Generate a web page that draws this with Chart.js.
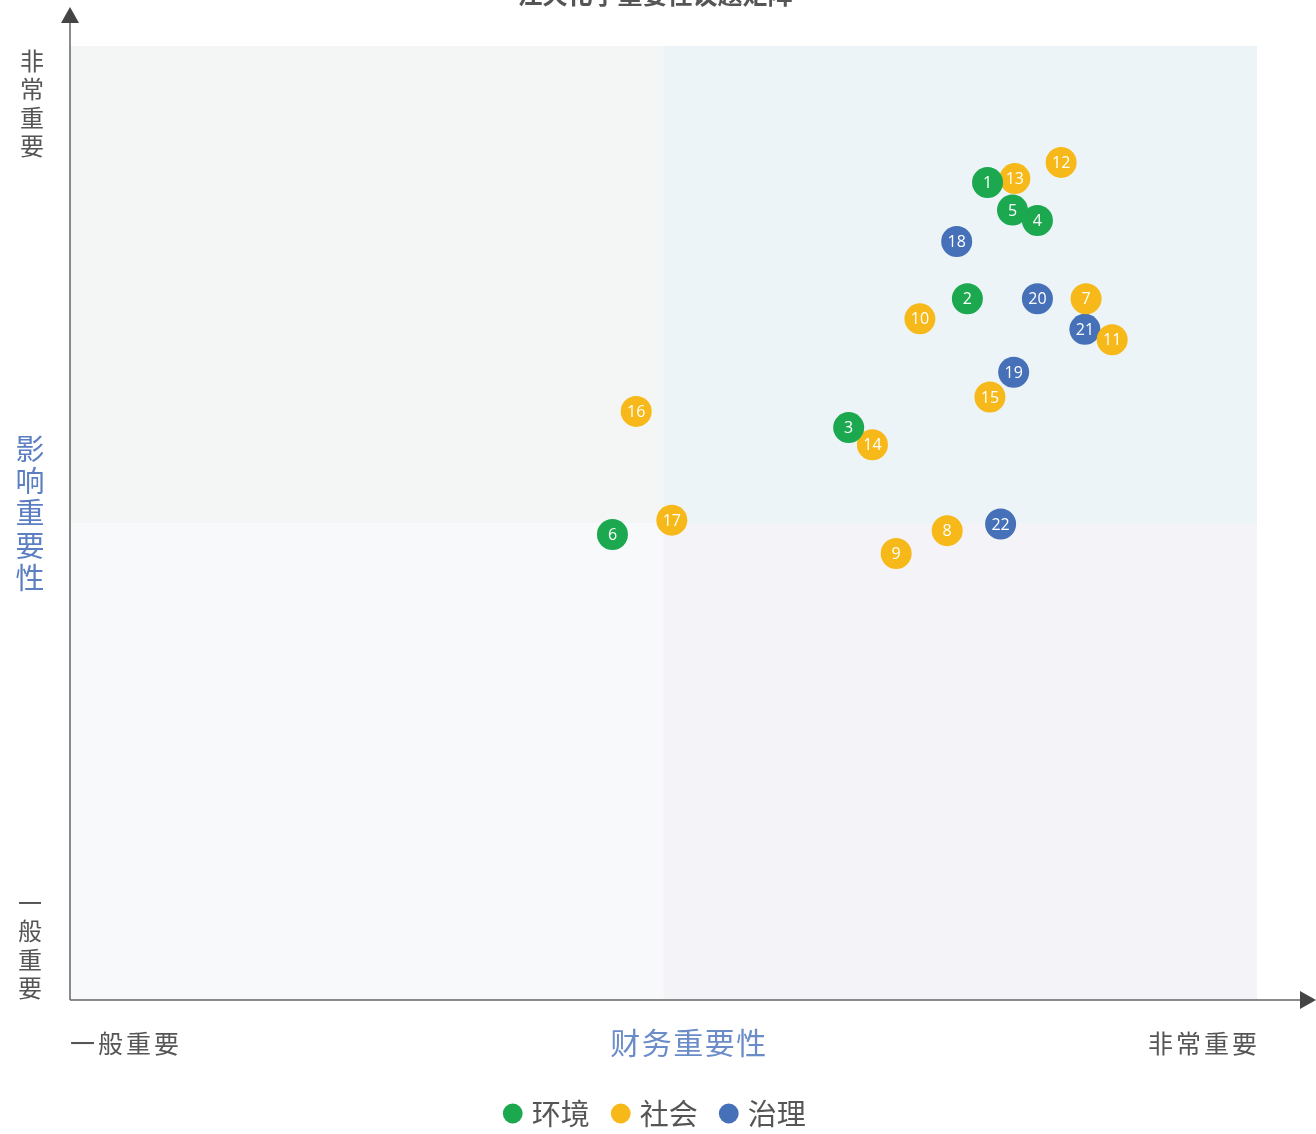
<!DOCTYPE html>
<html>
<head>
<meta charset="utf-8">
<script src="https://cdn.jsdelivr.net/npm/chart.js@4"></script>
<style>
html,body{margin:0;padding:0;background:#fff;overflow:hidden;}
#wrap{width:1316px;height:1134px;position:relative;overflow:hidden;}
</style>
</head>
<body>
<div id="wrap"><canvas id="c" width="1316" height="1138"></canvas></div>
<script>
const chartTitle = '江天化学重要性议题矩阵';
const seriesNames = ['环境', '社会', '治理'];
const seriesColors = ['#1ba84f', '#f6b919', '#4670b7'];
// issue id, financial materiality (x), impact materiality (y)
const envIds = [1, 2, 3, 4, 5, 6];
const envX = [7.73, 7.56, 6.56, 8.15, 7.94, 4.57];
const envY = [8.57, 7.35, 6.00, 8.17, 8.28, 4.88];
const socIds = [7, 8, 9, 10, 11, 12, 13, 14, 15, 16, 17];
const socX = [8.56, 7.39, 6.96, 7.16, 8.78, 8.35, 7.96, 6.76, 7.75, 4.77, 5.07];
const socY = [7.35, 4.92, 4.68, 7.14, 6.92, 8.78, 8.61, 5.82, 6.32, 6.17, 5.03];
const govIds = [18, 19, 20, 21, 22];
const govX = [7.47, 7.95, 8.15, 8.55, 7.84];
const govY = [7.95, 6.58, 7.35, 7.03, 4.99];
const xAxisTitle = '财务重要性';
const yAxisTitle = '影响重要性';
const lowLabel = '一般重要';
const highLabel = '非常重要';

function pts(xs, ys, ids) { return xs.map((x, i) => ({x: x, y: ys[i], id: ids[i]})); }

const FONT = '"Noto Sans CJK SC", "Noto Sans", sans-serif';

const decor = {
  id: 'decor',
  afterLayout(chart) {
    if (chart.legend) { chart.legend.left -= 6.5; chart.legend.right -= 6.5; }
  },
  beforeDatasetsDraw(chart) {
    const {ctx, chartArea: a, scales: {x, y}} = chart;
    const mx = x.getPixelForValue(5), my = y.getPixelForValue(5);
    ctx.save();
    ctx.fillStyle = '#f4f6f5'; ctx.fillRect(a.left, a.top, mx - a.left, my - a.top);
    ctx.fillStyle = '#ecf4f7'; ctx.fillRect(mx, a.top, a.right - mx, my - a.top);
    ctx.fillStyle = '#f8f9fb'; ctx.fillRect(a.left, my, mx - a.left, a.bottom - my);
    ctx.fillStyle = '#f4f4f8'; ctx.fillRect(mx, my, a.right - mx, a.bottom - my);
    // axes
    ctx.strokeStyle = '#666'; ctx.lineWidth = 1.5;
    ctx.beginPath();
    ctx.moveTo(a.left, a.bottom); ctx.lineTo(a.left, 20);
    ctx.moveTo(a.left, a.bottom); ctx.lineTo(1302, a.bottom);
    ctx.stroke();
    ctx.fillStyle = '#444';
    ctx.beginPath(); ctx.moveTo(a.left, 7); ctx.lineTo(a.left - 9, 23); ctx.lineTo(a.left + 9, 23); ctx.closePath(); ctx.fill();
    ctx.beginPath(); ctx.moveTo(1316, a.bottom); ctx.lineTo(1300, a.bottom - 9); ctx.lineTo(1300, a.bottom + 9); ctx.closePath(); ctx.fill();

    // title (partially cut off at top)
    ctx.fillStyle = '#555';
    ctx.font = 'bold 25px ' + FONT;
    ctx.textAlign = 'center'; ctx.textBaseline = 'alphabetic';
    ctx.fillText(chartTitle, 655, 4);

    // vertical labels
    function vtext(str, cx, y0, step, size, color) {
      ctx.font = size + 'px ' + FONT; ctx.fillStyle = color;
      ctx.textAlign = 'center'; ctx.textBaseline = 'middle';
      [...str].forEach((ch, i) => ctx.fillText(ch, cx, y0 + i * step));
    }
    vtext(highLabel, 32, 61, 28.2, 24, '#555');
    vtext(yAxisTitle, 30, 449, 32.2, 29, '#5b7fc2');
    vtext(lowLabel, 30, 903, 28.2, 24, '#555');

    // bottom labels
    ctx.textBaseline = 'middle';
    ctx.font = '25px ' + FONT; ctx.fillStyle = '#555';
    ctx.letterSpacing = '3px';
    ctx.textAlign = 'left'; ctx.fillText(lowLabel, a.left, 1043);
    ctx.textAlign = 'right'; ctx.fillText(highLabel, a.right + 3, 1043);
    ctx.font = '30px ' + FONT; ctx.fillStyle = '#6a8cc8';
    ctx.letterSpacing = '1.5px';
    ctx.textAlign = 'center'; ctx.fillText(xAxisTitle, 689, 1043);
    ctx.letterSpacing = '0px';
    ctx.restore();
  },
  afterDatasetsDraw(chart) {
    const {ctx} = chart;
    ctx.save();
    ctx.fillStyle = '#fff';
    ctx.font = '16px "Open Sans", "Noto Sans", sans-serif';
    ctx.textAlign = 'center'; ctx.textBaseline = 'middle';
    chart.data.datasets.forEach((ds, di) => {
      const meta = chart.getDatasetMeta(di);
      meta.data.forEach((el, i) => {
        ctx.fillText(String(ds.data[i].id), el.x, el.y + 1);
      });
    });
    ctx.restore();
  }
};

const datasets = [
  {label: seriesNames[0], data: pts(envX, envY, envIds)},
  {label: seriesNames[1], data: pts(socX, socY, socIds)},
  {label: seriesNames[2], data: pts(govX, govY, govIds)}
].map((d, i) => Object.assign(d, {
  backgroundColor: seriesColors[i], borderColor: seriesColors[i], borderWidth: 0,
  pointRadius: 15.5, pointHoverRadius: 15.5, pointStyle: 'circle'
}));

new Chart(document.getElementById('c'), {
  type: 'scatter',
  data: {datasets},
  options: {
    responsive: false,
    animation: false,
    events: [],
    layout: {padding: {left: 70, right: 59, top: 46, bottom: 0}},
    scales: {
      x: {
        type: 'linear', min: 0, max: 10, display: true,
        ticks: {display: false}, grid: {display: false}, border: {display: false},
        afterFit(scale) { scale.height = 72.5; }
      },
      y: {type: 'linear', min: 0, max: 10, display: false}
    },
    plugins: {
      title: {display: false},
      tooltip: {enabled: false},
      legend: {
        display: true, position: 'bottom',
        labels: {
          usePointStyle: true, pointStyle: 'circle', boxWidth: 9, boxHeight: 14,
          padding: 26.5, color: '#555',
          font: {size: 29, family: FONT}
        }
      }
    }
  },
  plugins: [decor]
});
</script>
</body>
</html>
